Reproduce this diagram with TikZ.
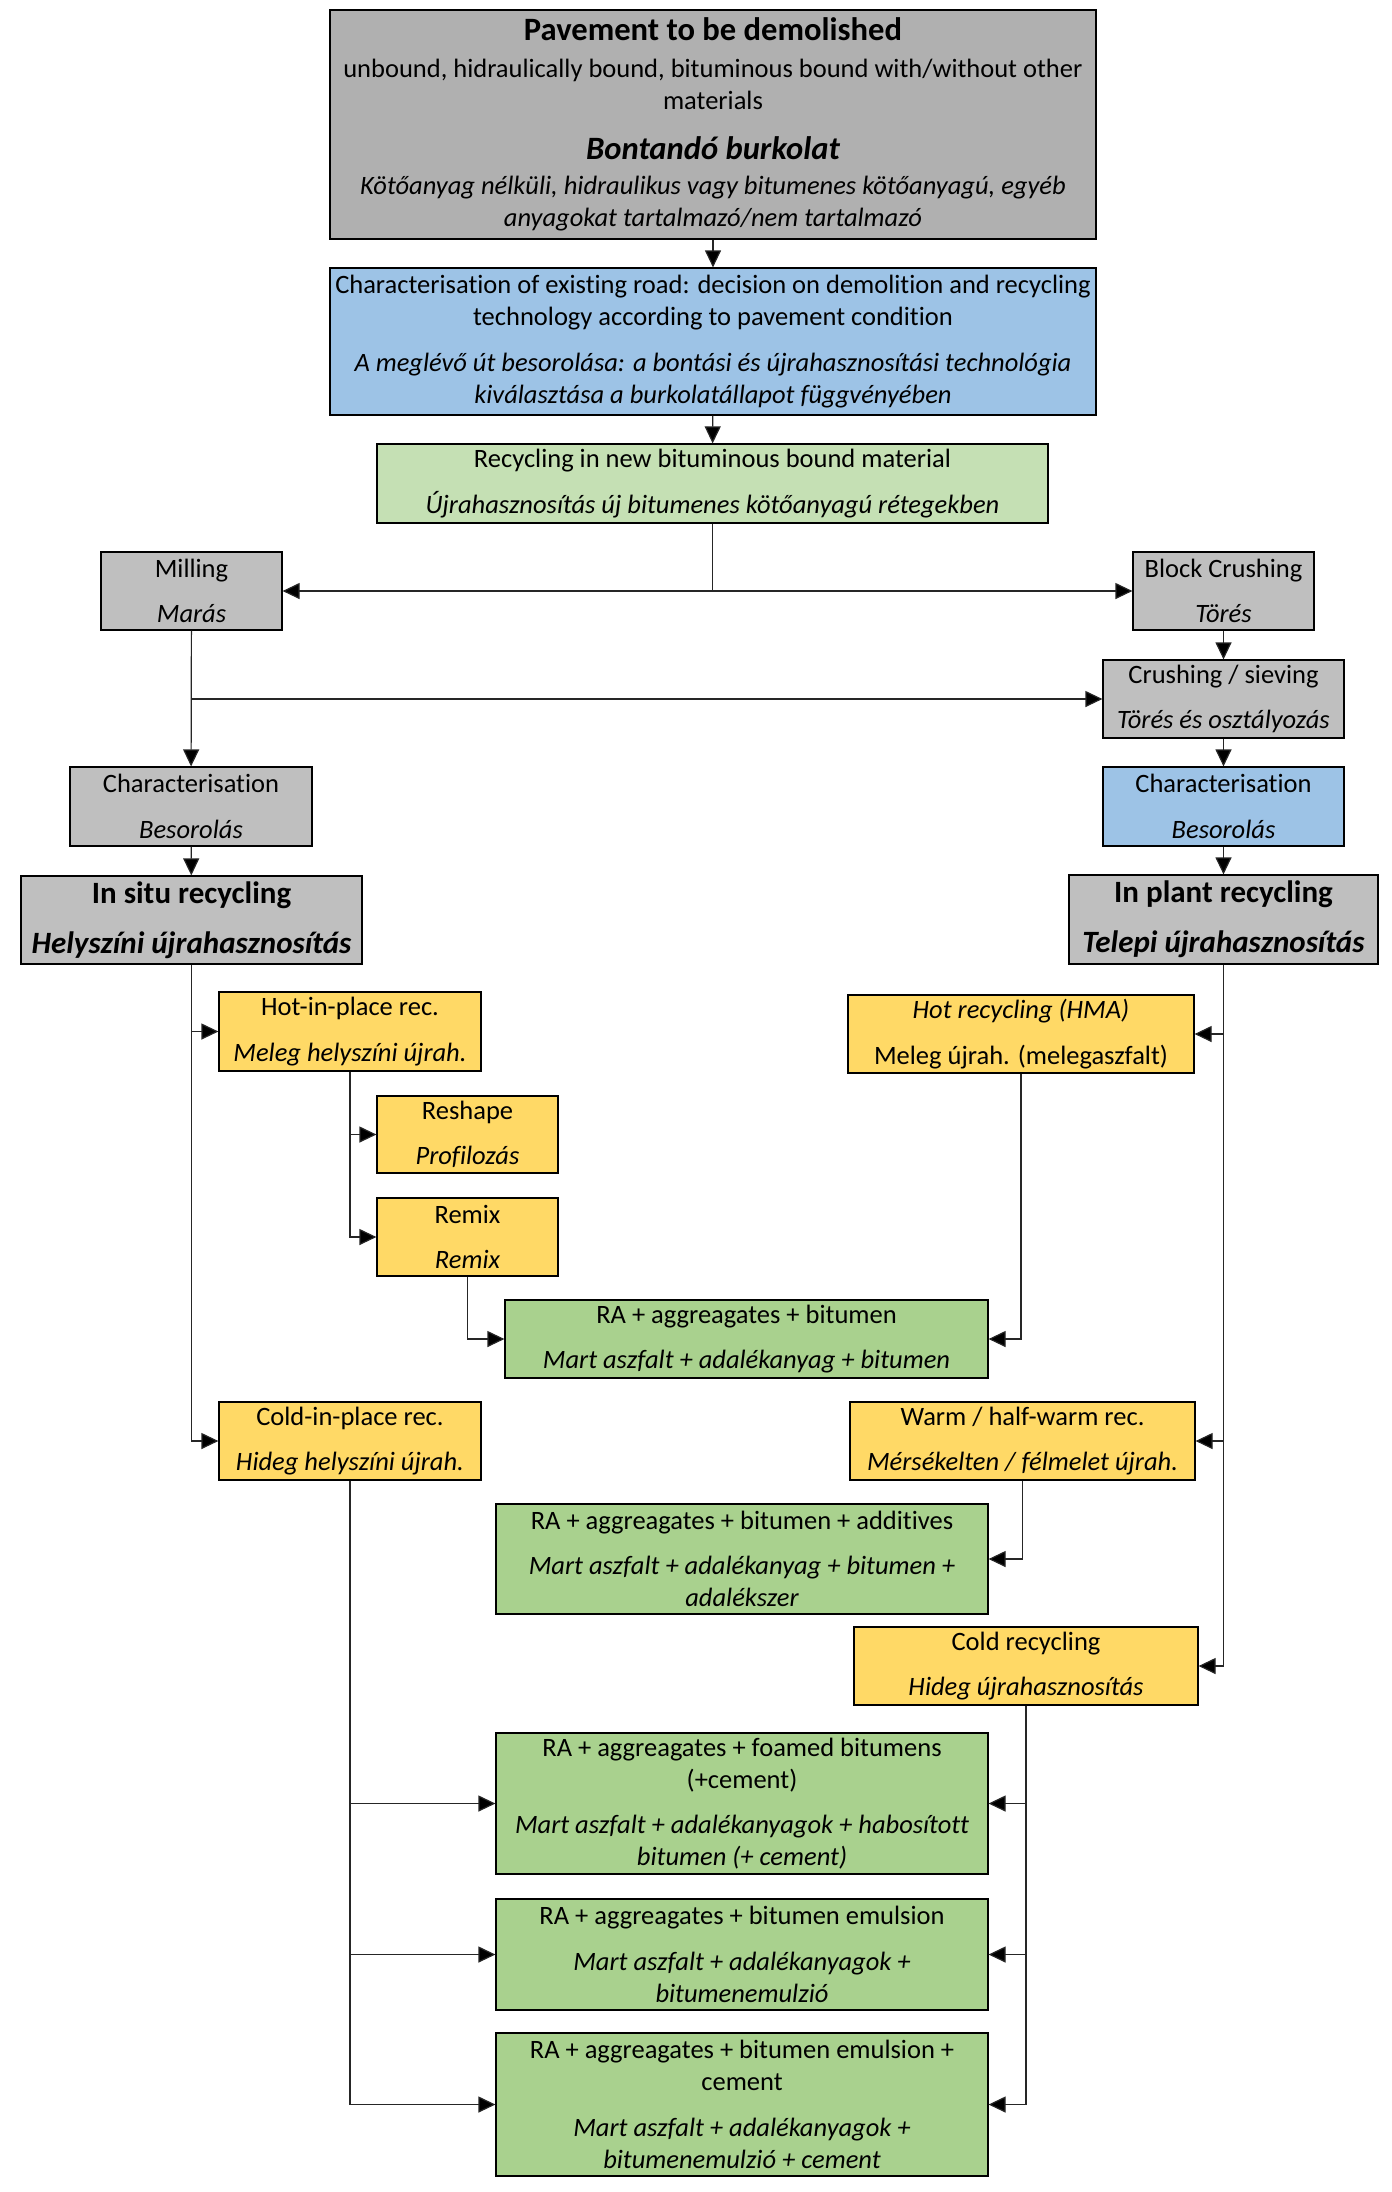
\documentclass[tikz,border=0pt]{standalone}
\usepackage{fontspec}
\setmainfont[Ligatures=NoCommon]{Carlito}
\usetikzlibrary{arrows.meta,fit}
\definecolor{gtop}{HTML}{B0B0B0}
\definecolor{gbox}{HTML}{BFBFBF}
\definecolor{bbox}{HTML}{9DC3E6}
\definecolor{lgreen}{HTML}{C5E0B4}
\definecolor{ybox}{HTML}{FFD966}
\definecolor{dgreen}{HTML}{A9D18E}
\newcommand\bigt{\fontsize{16.3}{18}\selectfont\bfseries}
\newcommand\medt{\fontsize{15.5}{18}\selectfont\bfseries}
\newcommand\gap{\\[6.7pt]}
\newcommand\bx[4]{\node[box,fill=#2,fit=#3] (#1) {}; \node[txt] (#1T) at (#1.center) {#4};}
\begin{document}
\begin{tikzpicture}[x=0.5pt,y=-0.5pt,
  box/.style={draw=black, line width=0.6pt, inner sep=0pt},
  txt/.style={inner sep=0pt, align=center, font=\fontsize{13.25}{16}\selectfont},
  arr/.style={draw=black!85, line width=0.6pt, -{Triangle[length=8.5pt,width=8pt,fill=black]}}]
\useasboundingbox[fill=white] (0,0) rectangle (1392,2192);
\bx{top}{gtop}{{(330,10) (1096,239)}}{%
{\bigt Pavement to be demolished}\\[2.2pt]
unbound, hidraulically bound, bituminous bound with/without other\\
materials\\[9.2pt]
{\bigt\itshape Bontandó burkolat}\\[1.5pt]
{\itshape Kötőanyag nélküli, hidraulikus vagy bitumenes kötőanyagú, egyéb}\\
{\itshape anyagokat tartalmazó/nem tartalmazó}}
\bx{char}{bbox}{{(330,268) (1096,415)}}{%
Characterisation of existing road: decision on demolition and recycling\\
technology according to pavement condition\gap
{\itshape A meglévő út besorolása: a bontási és újrahasznosítási technológia}\\
{\itshape kiválasztása a burkolatállapot függvényében}}
\bx{rec}{lgreen}{{(377,444) (1048,523)}}{%
Recycling in new bituminous bound material\gap
{\itshape Újrahasznosítás új bitumenes kötőanyagú rétegekben}}
\bx{mill}{gbox}{{(101,552) (282,630)}}{Milling\gap{\itshape Marás}}
\bx{block}{gbox}{{(1133,552) (1314,630)}}{Block Crushing\gap{\itshape Törés}}
\bx{crush}{gbox}{{(1103,660) (1344,738)}}{Crushing / sieving\gap{\itshape Törés és osztályozás}}
\bx{charL}{gbox}{{(70,767) (312,846)}}{Characterisation\gap{\itshape Besorolás}}
\bx{charR}{bbox}{{(1103,767) (1344,846)}}{Characterisation\gap{\itshape Besorolás}}
\bx{insitu}{gbox}{{(21,876) (362,964)}}{{\medt In situ recycling}\\[9.2pt]{\medt\itshape Helyszíni újrahasznosítás}}
\bx{inplant}{gbox}{{(1069,875) (1378,964)}}{{\medt In plant recycling}\\[9.2pt]{\medt\itshape Telepi újrahasznosítás}}
\bx{hip}{ybox}{{(219,992) (481,1071)}}{Hot-in-place rec.\gap{\itshape Meleg helyszíni újrah.}}
\bx{hma}{ybox}{{(848,995) (1194,1073)}}{{\itshape Hot recycling (HMA)}\gap Meleg újrah. (melegaszfalt)}
\bx{reshape}{ybox}{{(377,1096) (558,1173)}}{Reshape\gap{\itshape Profilozás}}
\bx{remix}{ybox}{{(377,1198) (558,1276)}}{Remix\gap{\itshape Remix}}
\bx{g1}{dgreen}{{(505,1300) (988,1378)}}{RA + aggreagates + bitumen\gap{\itshape Mart aszfalt + adalékanyag + bitumen}}
\bx{cip}{ybox}{{(219,1402) (481,1480)}}{Cold-in-place rec.\gap{\itshape Hideg helyszíni újrah.}}
\bx{warm}{ybox}{{(850,1402) (1195,1480)}}{Warm / half-warm rec.\gap{\itshape Mérsékelten / félmelet újrah.}}
\bx{g2}{dgreen}{{(496,1504) (988,1614)}}{RA + aggreagates + bitumen + additives\gap{\itshape Mart aszfalt + adalékanyag + bitumen +}\\{\itshape adalékszer}}
\bx{cold}{ybox}{{(854,1627) (1198,1705)}}{Cold recycling\gap{\itshape Hideg újrahasznosítás}}
\bx{g3}{dgreen}{{(496,1733) (988,1874)}}{RA + aggreagates + foamed bitumens\\(+cement)\gap{\itshape Mart aszfalt + adalékanyagok + habosított}\\{\itshape bitumen (+ cement)}}
\bx{g4}{dgreen}{{(496,1899) (988,2010)}}{RA + aggreagates + bitumen emulsion\gap{\itshape Mart aszfalt + adalékanyagok +}\\{\itshape bitumenemulzió}}
\bx{g5}{dgreen}{{(496,2033) (988,2176)}}{RA + aggreagates + bitumen emulsion +\\cement\gap{\itshape Mart aszfalt + adalékanyagok +}\\{\itshape bitumenemulzió + cement}}
% connectors
\draw[arr] (top) -- (char);
\draw[arr] (char) -- (rec);
\draw[arr] (rec.south) |- (mill.east);
\draw[arr] (rec.south) |- (block.west);
\draw[arr] (block) -- (crush);
\draw[arr] (mill) -- (charL);
\coordinate (j1) at (mill.south |- crush.west);
\draw[arr] (j1) -- (crush.west);
\draw[arr] (crush) -- (charR);
\draw[arr] (charR) -- (inplant);
\draw[arr] (charL) -- (insitu);
\draw[arr] (insitu.south) |- (hip.west);
\draw[arr] (insitu.south) |- (cip.west);
\draw[arr] (hip.south) |- (reshape.west);
\draw[arr] (hip.south) |- (remix.west);
\draw[arr] (remix.south) |- (g1.west);
\draw[arr] (hma.south) |- (g1.east);
\draw[arr] (inplant.south) |- (hma.east);
\draw[arr] (inplant.south) |- (warm.east);
\draw[arr] (inplant.south) |- (cold.east);
\draw[arr] (warm.south) |- (g2.east);
\draw[arr] (cold.south) |- (g3.east);
\draw[arr] (cold.south) |- (g4.east);
\draw[arr] (cold.south) |- (g5.east);
\draw[arr] (cip.south) |- (g3.west);
\draw[arr] (cip.south) |- (g4.west);
\draw[arr] (cip.south) |- (g5.west);
\end{tikzpicture}
\end{document}
